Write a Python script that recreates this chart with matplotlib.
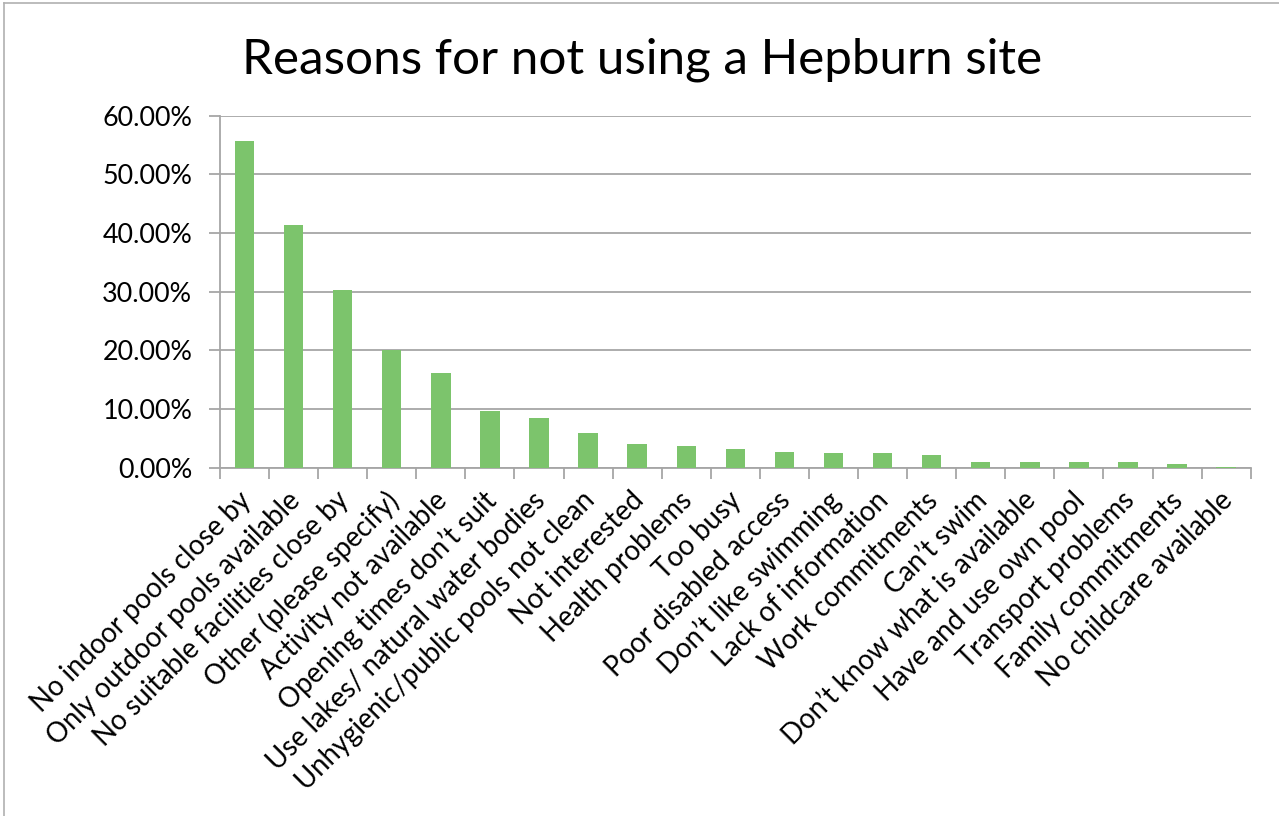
import matplotlib
matplotlib.use("Agg")
import matplotlib.pyplot as plt
from matplotlib.lines import Line2D
from matplotlib.ticker import FuncFormatter, FixedLocator
from matplotlib.transforms import ScaledTranslation

plt.rcParams['font.family'] = ['Lato', 'DejaVu Sans']

title = "Reasons for not using a Hepburn site"

categories = [
    "No indoor pools close by",
    "Only outdoor pools available",
    "No suitable facilities close by",
    "Other (please specify)",
    "Activity not available",
    "Opening times don\u2019t suit",
    "Use lakes/ natural water bodies",
    "Unhygienic/public pools not clean",
    "Not interested",
    "Health problems",
    "Too busy",
    "Poor disabled access",
    "Don\u2019t like swimming",
    "Lack of information",
    "Work commitments",
    "Can\u2019t swim",
    "Don\u2019t know what is available",
    "Have and use own pool",
    "Transport problems",
    "Family commitments",
    "No childcare available",
]

shares = [0.557, 0.414, 0.303, 0.200, 0.162, 0.097, 0.084, 0.059, 0.040, 0.037,
          0.032, 0.027, 0.0245, 0.0245, 0.0216, 0.0092, 0.0092, 0.0092, 0.0092,
          0.0068, 0.002]

y_ticks = [0.0, 0.1, 0.2, 0.3, 0.4, 0.5, 0.6]

W, H = 1279, 816
fig = plt.figure(figsize=(W / 100, H / 100), dpi=100)
ax = fig.add_axes([220 / W, 1 - 467.7 / H, (1250.7 - 220) / W, (467.7 - 115.7) / H])

grey = "#a6a6a6"
x = list(range(len(categories)))
ax.bar(x, shares, width=0.395, color="#7cc46c", zorder=3)

ax.set_xlim(-0.5, len(categories) - 0.5)
ax.set_ylim(0, 0.6)

ax.yaxis.set_major_locator(FixedLocator(y_ticks))
ax.yaxis.set_major_formatter(FuncFormatter(lambda v, p: f"{v * 100:.2f}%"))
ax.grid(axis="y", color=grey, linewidth=1.3, zorder=0)

# category boundaries carry the tick marks; labels sit at the centres
ax.set_xticks(x)
ax.set_xticklabels(categories, rotation=45, ha="right", va="top",
                   rotation_mode="anchor", fontsize=19.8)
ax.tick_params(axis="x", which="major", length=0, pad=14)
shift = ScaledTranslation(-7 / 100, 0, fig.dpi_scale_trans)
for lbl in ax.get_xticklabels():
    lbl.set_transform(lbl.get_transform() + shift)
ax.set_xticks([i - 0.5 for i in range(len(categories) + 1)], minor=True)
ax.tick_params(axis="x", which="minor", length=8, width=1.3, color=grey,
               direction="out")
ax.tick_params(axis="y", length=8, width=1.3, color=grey, direction="out",
               labelsize=19.4, pad=12)

for side in ("top", "right"):
    ax.spines[side].set_visible(False)
for side in ("left", "bottom"):
    ax.spines[side].set_color(grey)
    ax.spines[side].set_linewidth(1.3)

fig.text(642 / W, 1 - 73 / H, title, ha="center", va="baseline",
         fontsize=35.6, color="black")

# outer chart-area border
fig.add_artist(Line2D([4 / W, 1], [1 - 3 / H, 1 - 3 / H], color="#b0b0b0",
                      linewidth=1.2, transform=fig.transFigure))
fig.add_artist(Line2D([4 / W, 4 / W], [0, 1 - 3 / H], color="#b0b0b0",
                      linewidth=1.2, transform=fig.transFigure))

fig.savefig("out.png", dpi=100)
